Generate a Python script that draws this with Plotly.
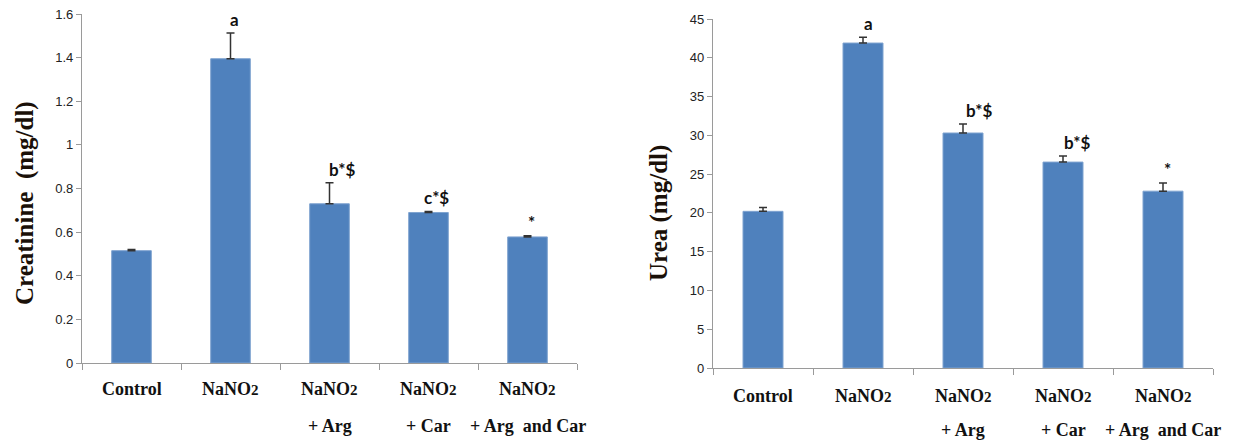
import plotly.graph_objects as go

W, H = 1234, 441

categories = ["Control", "NaNO2", "NaNO2 + Arg", "NaNO2 + Car", "NaNO2 + Arg and Car"]
label_line1 = ["Control", "NaNO<span style='font-size:15px'>2</span>",
               "NaNO<span style='font-size:15px'>2</span>",
               "NaNO<span style='font-size:15px'>2</span>",
               "NaNO<span style='font-size:15px'>2</span>"]
label_line2 = ["", "", "+ Arg", "+ Car", "+ Arg  and Car"]

creatinine = [0.515, 1.395, 0.73, 0.69, 0.578]
creatinine_err = [0.005, 0.118, 0.096, 0.005, 0.005]
creatinine_marks = ["", "a", "b*$", "c*$", "*"]

urea = [20.2, 41.9, 30.3, 26.55, 22.8]
urea_err = [0.5, 0.75, 1.15, 0.77, 1.05]
urea_marks = ["", "a", "b*$", "b*$", "*"]

creat_ticks = [0, 0.2, 0.4, 0.6, 0.8, 1, 1.2, 1.4, 1.6]
urea_ticks = [0, 5, 10, 15, 20, 25, 30, 35, 40, 45]

BAR = "#4F81BD"
AXIS = "#9a9a9a"

def py(px):
    return 1 - px / H

def pxx(px):
    return px / W

fig = go.Figure()

fig.add_trace(go.Bar(
    x=categories, y=creatinine, width=0.4, xaxis="x", yaxis="y",
    marker=dict(color=BAR, line=dict(color="#7fa3d0", width=1)),
    error_y=dict(type="data", symmetric=False, array=creatinine_err,
                 arrayminus=[0] * len(creatinine_err),
                 color="#333333", thickness=1.5, width=4),
    showlegend=False))

fig.add_trace(go.Bar(
    x=categories, y=urea, width=0.4, xaxis="x2", yaxis="y2",
    marker=dict(color=BAR, line=dict(color="#7fa3d0", width=1)),
    error_y=dict(type="data", symmetric=False, array=urea_err,
                 arrayminus=[0] * len(urea_err),
                 color="#333333", thickness=1.5, width=4),
    showlegend=False))

xcommon = dict(type="category", showline=True, linecolor=AXIS, linewidth=1.3,
               ticks="outside", tickson="boundaries", ticklen=6, tickcolor=AXIS,
               showticklabels=False, showgrid=False, zeroline=False,
               range=[-0.5, 4.5], fixedrange=True, automargin=False)
ycommon = dict(showline=True, linecolor=AXIS, linewidth=1.3, ticks="outside",
               ticklen=5, tickcolor=AXIS, showgrid=False, zeroline=False,
               automargin=False, fixedrange=True,
               tickfont=dict(family="Liberation Sans", size=13, color="#222222"))

fig.update_layout(
    width=W, height=H,
    margin=dict(l=0, r=0, t=0, b=0, autoexpand=False),
    paper_bgcolor="white", plot_bgcolor="white",
    bargap=0.6,
    xaxis=dict(domain=[pxx(82), pxx(577)], anchor="y", **xcommon),
    yaxis=dict(domain=[py(363), py(14)], anchor="x", range=[0, 1.6],
               tickvals=creat_ticks, **ycommon),
    xaxis2=dict(domain=[pxx(713), pxx(1213)], anchor="y2", **xcommon),
    yaxis2=dict(domain=[py(368), py(19)], anchor="x2", range=[0, 45],
                tickvals=urea_ticks, **ycommon),
)

ann = []
lab_font = dict(family="Liberation Serif", size=18, color="#111111")
for xr, y1, y2 in [("x", 389, 426), ("x2", 396, 430)]:
    for c, l1, l2 in zip(categories, label_line1, label_line2):
        ann.append(dict(x=c, xref=xr, y=py(y1), yref="paper", text="<b>%s</b>" % l1,
                        showarrow=False, font=lab_font, yanchor="middle"))
        if l2:
            ann.append(dict(x=c, xref=xr, y=py(y2), yref="paper", text="<b>%s</b>" % l2,
                            showarrow=False, font=lab_font, yanchor="middle"))

mark_font = dict(family="Lato", size=17, color="#111111")
cre_shift = [0, 4, 12, 8, 4]
urea_shift = [0, 5, 16, 14, 4]
for c, v, e, m, s in zip(categories, creatinine, creatinine_err, creatinine_marks, cre_shift):
    if m:
        ann.append(dict(x=c, xref="x", y=v + e, yref="y", text="<b>%s</b>" % m,
                        showarrow=False, font=mark_font, yanchor="bottom",
                        xshift=s, yshift=1))
for c, v, e, m, s in zip(categories, urea, urea_err, urea_marks, urea_shift):
    if m:
        ann.append(dict(x=c, xref="x2", y=v + e, yref="y2", text="<b>%s</b>" % m,
                        showarrow=False, font=mark_font, yanchor="bottom",
                        xshift=s, yshift=1))

title_font = dict(family="Liberation Serif", size=25, color="#1a1008")
ann.append(dict(x=pxx(25), y=py(203), xref="paper", yref="paper",
                text="<b>Creatinine  (mg/dl)</b>", textangle=-90, showarrow=False,
                font=title_font, xanchor="center", yanchor="middle"))
ann.append(dict(x=pxx(659), y=py(213), xref="paper", yref="paper",
                text="<b>Urea (mg/dl)</b>", textangle=-90, showarrow=False,
                font=title_font, xanchor="center", yanchor="middle"))

fig.update_layout(annotations=ann)

fig.write_html("out.html", config={"displayModeBar": False},
               post_script="document.body.style.margin='0';")
